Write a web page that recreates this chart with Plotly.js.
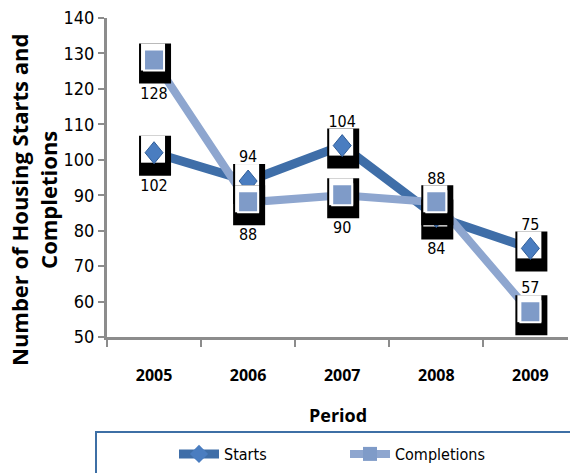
<!DOCTYPE html>
<html>
<head>
<meta charset="utf-8">
<script src="https://cdn.plot.ly/plotly-3.0.1.min.js"></script>
<style>html,body{margin:0;padding:0;background:#fff;overflow:hidden}</style>
</head>
<body>
<div id="chart" style="width:570px;height:473px"></div>
<script>
const periods = ["2005", "2006", "2007", "2008", "2009"];
const starts = [102, 94, 104, 84, 75];
const completions = [128, 88, 90, 88, 57];
const yTicks = [50, 60, 70, 80, 90, 100, 110, 120, 130, 140];

const startsColor = "#3f6ea8", complColor = "#8ea6cf";
const numFamily = "'DejaVu Sans Condensed', 'Liberation Sans Narrow', 'Open Sans', sans-serif";
const numFont = {family: numFamily, size: 16, color: "#000"};

const startsPos = ["bottom", "top", "top", "bottom", "top"];
const complPos = ["bottom", "bottom", "bottom", "top", "top"];

function lineTrace(y, name, color, width, symbol, legendId) {
  return {
    x: periods, y: y, name: name, type: "scatter", mode: "lines+markers",
    line: {color: color, width: width},
    marker: {symbol: symbol, size: 14, color: color === startsColor ? "#4a7dc0" : "#7f9bc8"},
    legend: legendId, hoverinfo: "skip"
  };
}
function labelTrace(y, pos) {
  return {
    x: periods, y: y, type: "scatter", mode: "markers+text", showlegend: false,
    text: y.map(String), textposition: pos.map(p => p + " center"),
    marker: {size: pos.map(p => p === "top" ? 22 : 40), opacity: 0},
    textfont: numFont, cliponaxis: false, hoverinfo: "skip"
  };
}

const traces = [
  lineTrace(starts, "Starts", startsColor, 9, "diamond", "legend"),
  lineTrace(completions, "Completions", complColor, 8, "square", "legend2"),
  labelTrace(starts, startsPos),
  labelTrace(completions, complPos)
];

// marker boxes and markers drawn as pixel-sized shapes anchored at data points
const shapes = [];
function addMarkers(y, kind) {
  y.forEach((v, i) => {
    const base = {xref: "x", yref: "y", xsizemode: "pixel", ysizemode: "pixel",
                  xanchor: i, yanchor: v, layer: "above"};
    shapes.push(Object.assign({}, base, {type: "rect", x0: -15, x1: 17, y0: -23, y1: 17,
      fillcolor: "#000", line: {width: 0}}));
    shapes.push(Object.assign({}, base, {type: "rect", x0: -13, x1: 11, y0: -10, y1: 17,
      fillcolor: "#fff", line: {width: 0}}));
    if (kind === "diamond") {
      shapes.push(Object.assign({}, base, {type: "path",
        path: "M 0 11 L 9 0 L 0 -11 L -9 0 Z",
        fillcolor: "#4a7dc0", line: {color: "#2f5d98", width: 1}}));
    } else {
      shapes.push(Object.assign({}, base, {type: "path",
        path: "M -10 11 L 10 11 L 10 -10 L -10 -10 Z",
        fillcolor: "#7f9bc8", line: {color: "#ffffff", width: 2}}));
    }
  });
}
addMarkers(starts, "diamond");
addMarkers(completions, "square");

const L = 107, T = 18, W = 461, H = 319;
const px = v => (v - L) / W;
const py = v => (T + H - v) / H;

shapes.push({
  type: "rect", xref: "paper", yref: "paper",
  x0: px(96), x1: px(580), y0: py(432), y1: py(476),
  line: {color: "#3d6fa5", width: 2}, fillcolor: "rgba(0,0,0,0)"
});

const legendFont = {family: numFamily, size: 16, color: "#000"};
const layout = {
  width: 570, height: 473,
  margin: {l: L, r: 570 - L - W, t: T, b: 473 - T - H},
  paper_bgcolor: "#fff", plot_bgcolor: "#fff",
  showlegend: true,
  font: {family: "'Open Sans', sans-serif", color: "#000"},
  xaxis: {
    type: "category", range: [-0.5, 4.4],
    showline: true, linecolor: "#8c8c8c", linewidth: 3,
    ticks: "outside", tickson: "boundaries", ticklen: 7, tickwidth: 2, tickcolor: "#8c8c8c",
    showgrid: false, zeroline: false,
    tickfont: {family: "'Open Sans', sans-serif", size: 16, color: "#000", weight: "bold"},
    ticklabelstandoff: 22
  },
  yaxis: {
    range: [50, 140], tickvals: yTicks, ticktext: yTicks.map(String),
    showline: true, linecolor: "#8c8c8c", linewidth: 3,
    ticks: "outside", ticklen: 6, tickwidth: 2, tickcolor: "#8c8c8c",
    showgrid: false, zeroline: false,
    tickfont: {family: numFamily, size: 18, color: "#000"}
  },
  legend: {
    orientation: "h", x: px(174), y: py(437), xanchor: "left", yanchor: "top",
    font: legendFont, bgcolor: "rgba(0,0,0,0)", borderwidth: 0, itemwidth: 40
  },
  legend2: {
    orientation: "h", x: px(345), y: py(437), xanchor: "left", yanchor: "top",
    font: legendFont, bgcolor: "rgba(0,0,0,0)", borderwidth: 0, itemwidth: 40
  },
  shapes: shapes,
  annotations: [
    {
      text: "Number of Housing Starts and<br>Completions", textangle: -90,
      xref: "paper", yref: "paper", x: px(33), y: py(200), xanchor: "center", yanchor: "middle",
      showarrow: false, font: {family: "'Open Sans', sans-serif", size: 22, color: "#000", weight: "bold"}
    },
    {
      text: "Period", xref: "paper", yref: "paper", x: px(338), y: py(415),
      xanchor: "center", yanchor: "middle", showarrow: false,
      font: {family: "'Open Sans', sans-serif", size: 18, color: "#000", weight: "bold"}
    }
  ]
};

Plotly.newPlot("chart", traces, layout, {displayModeBar: false, staticPlot: true});
</script>
</body>
</html>
